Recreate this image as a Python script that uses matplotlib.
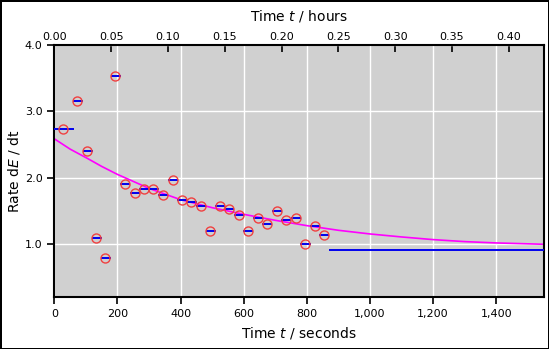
import numpy as np
import matplotlib
matplotlib.use('Agg')
import matplotlib.pyplot as plt
from matplotlib.ticker import FuncFormatter, MultipleLocator, FixedLocator

############################### Datos ###############################
### Tasa medida (segundos, dE/dt)
t_meas = [28.6, 73, 104, 133.4, 162, 193.7, 222.3, 254, 282.5, 314,
          342.9, 374.6, 402.9, 433.7, 463.5, 494.3, 523.8, 552.4, 584, 612.7,
          644.4, 673, 704.8, 733.3, 765, 793.7, 824.4, 853.7, 1700]
rate_meas = [2.73, 3.16, 2.40, 1.096, 0.796, 3.535, 1.906, 1.765, 1.83, 1.83,
             1.74, 1.968, 1.666, 1.633, 1.576, 1.20, 1.576, 1.536, 1.441, 1.20,
             1.396, 1.306, 1.50, 1.366, 1.396, 1.01, 1.276, 1.14, 0.91]
xerr_left  = [28.6] + [14]*27 + [831]
xerr_right = [34] + [18]*27 + [100]

### Modelo ajustado
t_fit    = [0, 50, 105, 150, 200, 300, 400, 500, 600, 700, 800, 900,
            1000, 1100, 1200, 1300, 1400, 1550]
rate_fit = [2.585, 2.43, 2.29, 2.17, 2.05, 1.84, 1.67, 1.55, 1.45, 1.36, 1.28, 1.21,
            1.155, 1.11, 1.07, 1.04, 1.02, 1.0]

### Ticks eje superior (horas)
hour_ticks = [0.00, 0.05, 0.10, 0.15, 0.20, 0.25, 0.30, 0.35, 0.40]

############################### Gráfica ###############################
fig = plt.figure(figsize=(5.49, 3.49), dpi=100)
fig.patch.set_edgecolor('black')
fig.patch.set_linewidth(2)
ax = fig.add_axes([0.099, 0.1476, 0.891, 0.7244])
ax.set_facecolor('#d0d0d0')

ax.plot(t_fit, rate_fit, '-', color='#ff00ff', linewidth=1.2, zorder=2)
ax.errorbar(t_meas, rate_meas, xerr=[xerr_left, xerr_right], fmt='none',
            ecolor='#0000ee', elinewidth=1.4, capsize=0, zorder=3)
ax.plot(t_meas, rate_meas, 'o', mfc='none', mec='#f04040', markersize=6.5,
        markeredgewidth=1.0, zorder=4)

ax.set_xlim(0, 1550)
ax.set_ylim(0.2, 4.0)
ax.xaxis.set_major_locator(MultipleLocator(200))
ax.yaxis.set_major_locator(MultipleLocator(1.0))
ax.xaxis.set_major_formatter(FuncFormatter(lambda v, p: '{:,.0f}'.format(v)))
ax.yaxis.set_major_formatter(FuncFormatter(lambda v, p: '%.1f' % v))
ax.grid(True, color='white', linewidth=1.0)
ax.set_axisbelow(True)
for s in ax.spines.values():
    s.set_linewidth(1.5)
    s.set_color('black')
ax.tick_params(labelsize=8, length=5, width=1.2)
ax.set_xlabel(r'Time $t$ / seconds', fontsize=10)
ax.set_ylabel(r'Rate d$E$ / dt', fontsize=10, labelpad=2)

### Eje superior en horas
top = ax.secondary_xaxis('top', functions=(lambda s: s/3600.0, lambda h: h*3600.0))
top.xaxis.set_major_locator(FixedLocator(hour_ticks))
top.xaxis.set_major_formatter(FuncFormatter(lambda v, p: '%.2f' % v))
top.tick_params(labelsize=8, length=5, width=1.2, direction='in', pad=2)
top.set_xlabel(r'Time $t$ / hours', fontsize=10, labelpad=8)

fig.savefig('out.png', dpi=100, edgecolor=fig.get_edgecolor())
